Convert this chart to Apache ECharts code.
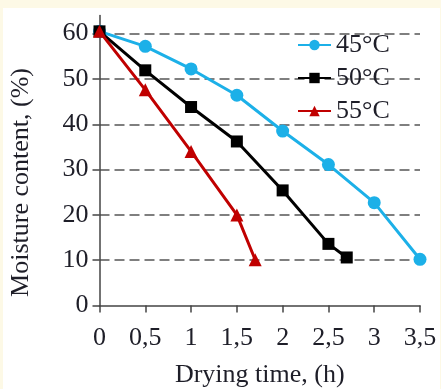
<!DOCTYPE html>
<html>
<head>
<meta charset="utf-8">
<script src="https://cdn.jsdelivr.net/npm/echarts@6/dist/echarts.min.js"></script>
<style>
  html, body { margin: 0; padding: 0; background: #fdf9e6; }
  #wrap { position: absolute; left: 3px; top: 8px; width: 437px; height: 381px; background: #fff; }
  #chart { width: 437px; height: 381px; }
</style>
</head>
<body>
<div id="wrap"><div id="chart"></div></div>
<script>
// drying curves
const t45 = [0, 0.5, 1, 1.5, 2, 2.5, 3, 3.5]
const m45 = [60.5, 57.2, 52.2, 46.4, 38.5, 31.1, 22.7, 10.2]
const t50 = [0, 0.5, 1, 1.5, 2, 2.5, 2.7]
const m50 = [60.5, 51.9, 43.8, 36.2, 25.4, 13.6, 10.6]
const t55 = [0, 0.5, 1, 1.5, 1.7]
const m55 = [60.5, 47.6, 34.0, 20.0, 10.1]
const names = ['45°C', '50°C', '55°C']

const pairs = (xs, ys) => xs.map((x, i) => [x, ys[i]])
const font = '"Liberation Serif", "Times New Roman", serif'
const txt = '#1e1e28'
const fs = 26

const myChart = echarts.init(document.getElementById('chart'))
myChart.setOption({
  animation: false,
  textStyle: { fontFamily: font },
  grid: { left: 96.5, right: 20, top: 7.5, bottom: 83.5, outerBoundsMode: 'none', containLabel: false },
  legend: {
    orient: 'vertical',
    left: 294,
    top: 24,
    padding: 0,
    itemWidth: 33,
    itemHeight: 13,
    itemGap: 7,
    textStyle: { fontFamily: font, fontSize: fs, color: txt },
    data: names
  },
  xAxis: {
    type: 'value',
    min: 0,
    max: 3.5,
    interval: 0.5,
    name: 'Drying time, (h)',
    nameLocation: 'middle',
    nameGap: 57,
    nameTextStyle: { fontFamily: font, fontSize: fs, color: txt },
    axisLine: { lineStyle: { color: '#444', width: 1.5 } },
    axisTick: { inside: false, length: 7, lineStyle: { color: '#444', width: 1.5 } },
    axisLabel: {
      margin: 20,
      fontFamily: font,
      fontSize: fs,
      color: txt,
      formatter: v => String(v).replace('.', ',')
    },
    splitLine: { show: false }
  },
  yAxis: {
    type: 'value',
    min: 0,
    max: 64,
    interval: 10,
    name: 'Moisture content, (%)',
    nameLocation: 'middle',
    nameGap: 65,
    nameTextStyle: { fontFamily: font, fontSize: fs, color: txt, padding: [0, 44, 0, 0] },
    axisLine: { show: true, lineStyle: { color: '#444', width: 1.5 } },
    axisTick: { show: true, length: 7, lineStyle: { color: '#444', width: 1.5 } },
    axisLabel: { margin: 11, fontFamily: font, fontSize: fs, color: txt, showMaxLabel: false },
    splitLine: {
      show: true,
      showMinLine: false,
      showMaxLine: false,
      lineStyle: { color: '#555', width: 1.5, type: [10, 5] }
    }
  },
  series: [
    {
      name: names[0],
      type: 'line',
      data: pairs(t45, m45),
      symbol: 'circle',
      symbolSize: 13,
      clip: false,
      itemStyle: { color: '#1cb0e8' },
      lineStyle: { width: 3, color: '#1cb0e8' }
    },
    {
      name: names[1],
      type: 'line',
      data: pairs(t50, m50),
      symbol: 'rect',
      symbolSize: 12,
      clip: false,
      itemStyle: { color: '#000' },
      lineStyle: { width: 3, color: '#000' }
    },
    {
      name: names[2],
      type: 'line',
      data: pairs(t55, m55),
      symbol: 'triangle',
      symbolSize: 13,
      clip: false,
      itemStyle: { color: '#c00000' },
      lineStyle: { width: 3, color: '#c00000' }
    }
  ]
})
</script>
</body>
</html>
